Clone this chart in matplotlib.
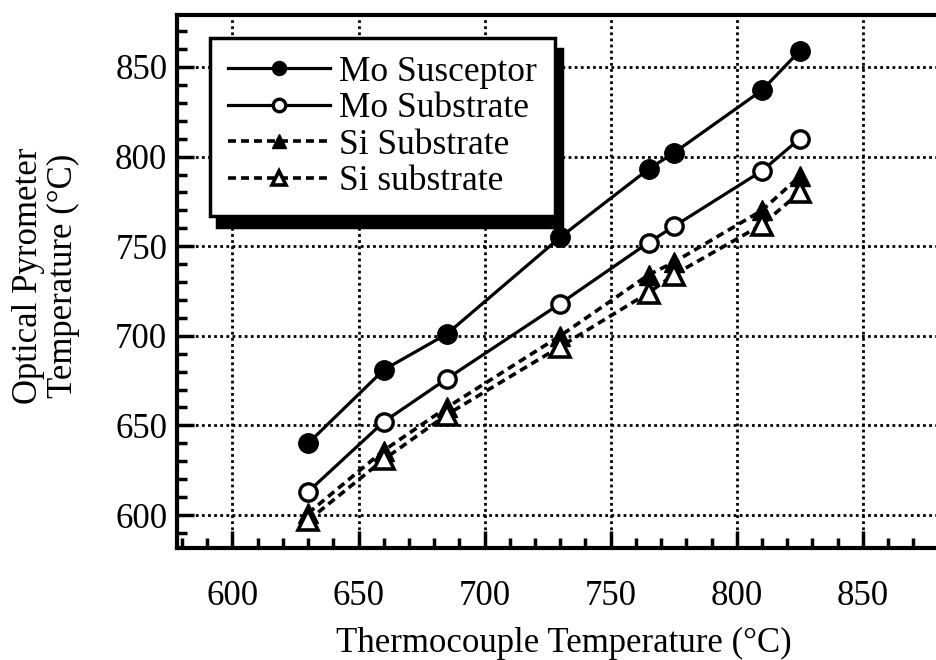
import matplotlib

matplotlib.use("Agg")
import matplotlib.pyplot as plt
from matplotlib.ticker import MultipleLocator

# data
thermocouple = [630, 660, 685, 730, 765, 775, 810, 825]
mo_susceptor = [640, 681, 701, 755, 793, 802, 837, 859]
mo_substrate = [613, 652, 676, 718, 752, 761, 792, 810]
si_substrate_filled = [601, 636, 660, 700, 734, 741, 770, 789]
si_substrate_open = [597, 631, 656, 694, 724, 734, 762, 780]

labels = ["Mo Susceptor", "Mo Substrate", "Si Substrate", "Si substrate"]

plt.rcParams["font.family"] = ["Liberation Serif", "DejaVu Serif"]
FS = 25

fig = plt.figure(figsize=(9.36, 6.6), dpi=100)
ax = fig.add_axes([177 / 936, 1 - 548 / 660, 764 / 936, 533 / 660])

dash = (0, (2.2, 1.4))
ax.plot(thermocouple, mo_susceptor, "-", color="black", lw=2.3,
        marker="o", ms=14, mfc="black", mec="black", label=labels[0])
ax.plot(thermocouple, mo_substrate, "-", color="black", lw=2.3,
        marker="o", ms=12.5, mfc="white", mec="black", mew=2.4, label=labels[1])
ax.plot(thermocouple, si_substrate_filled, color="black", lw=2.6, ls=dash,
        marker="^", ms=14, mfc="black", mec="black", label=labels[2])
ax.plot(thermocouple, si_substrate_open, color="black", lw=2.6, ls=dash,
        marker="^", ms=14, mfc="white", mec="black", mew=2.6, label=labels[3])

ax.set_xlim(578, 881)
ax.set_ylim(581.6, 879)
ax.xaxis.set_major_locator(MultipleLocator(50))
ax.xaxis.set_minor_locator(MultipleLocator(10))
ax.yaxis.set_major_locator(MultipleLocator(50))
ax.yaxis.set_minor_locator(MultipleLocator(10))

ax.grid(True, which="major", color="black", ls=(0, (1, 1.2)), lw=2)
ax.set_axisbelow(True)

ax.tick_params(which="both", direction="in", top=False, right=False,
               labelsize=FS, color="black")
ax.tick_params(which="major", length=12, width=2.5)
ax.tick_params(which="minor", length=7, width=2.5)
ax.tick_params(axis="x", which="major", pad=23)
ax.tick_params(axis="y", which="major", pad=7)

for spine in ax.spines.values():
    spine.set_linewidth(3)

ax.set_xlabel("Thermocouple Temperature (°C)", fontsize=FS, va="center")
ax.xaxis.set_label_coords(0.506, -0.18)
ax.set_ylabel("Optical Pyrometer\nTemperature (°C)", fontsize=FS,
              va="center", linespacing=1.08)
ax.yaxis.set_label_coords(-0.172, 0.51)

leg = ax.legend(loc="upper left", bbox_to_anchor=(0.043, 0.957),
                borderaxespad=0, fontsize=25.5, markerscale=0.72,
                handlelength=2.9, handletextpad=0.25, labelspacing=0.1,
                borderpad=0.5, fancybox=False, framealpha=1,
                edgecolor="black",
                shadow={"ox": 5, "oy": -8, "color": "black", "alpha": 1})
leg.get_frame().set_linewidth(2.5)

fig.savefig("out.png", dpi=100)
